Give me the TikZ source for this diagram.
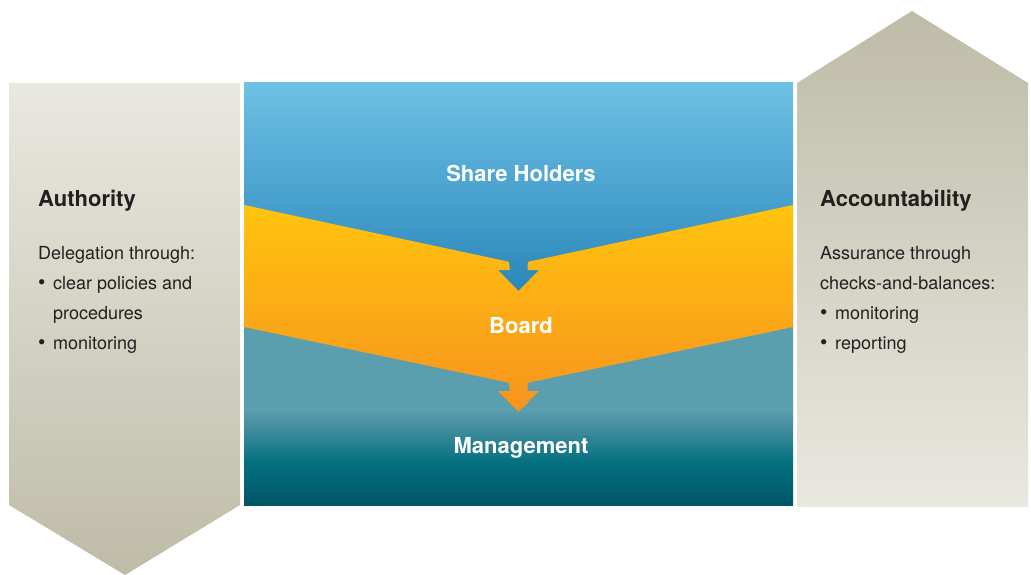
\documentclass[tikz,border=0pt]{standalone}
\usepackage{fontspec}
\setmainfont{TeX Gyre Heros}
\definecolor{txtdark}{HTML}{231F20}
\definecolor{beigeL}{HTML}{E9E8E1}
\definecolor{beigeD}{HTML}{BEBCA7}
\definecolor{blueT}{HTML}{6EC1E4}
\definecolor{blueB}{HTML}{2A86BA}
\definecolor{tealA}{HTML}{5B9EAD}
\definecolor{tealC}{HTML}{3F8B9B}
\definecolor{tealD}{HTML}{03707F}
\definecolor{tealE}{HTML}{005566}
\definecolor{orT}{HTML}{FFC40E}
\definecolor{orB}{HTML}{F7931E}
\pgfdeclareverticalshading{tealshade}{100bp}{color(0bp)=(tealE); color(25bp)=(tealE);
  color(34.9bp)=(tealD); color(42.6bp)=(tealC); color(47.3bp)=(tealA); color(100bp)=(tealA)}
\newcommand{\blt}{\makebox[15pt][l]{\raisebox{-0.3pt}{\fontsize{21}{21}\selectfont\textbullet}}}
\begin{document}
\begin{tikzpicture}[x=1pt,y=-1pt,
  titletext/.style={font=\fontsize{22}{26}\selectfont\bfseries, text=txtdark, inner sep=0pt, anchor=base west},
  bodytext/.style={font=\fontsize{18}{22}\selectfont, text=txtdark, inner sep=0pt, anchor=base west},
  centerlabel/.style={font=\fontsize{22}{26}\selectfont\bfseries, text=white, inner sep=0pt, anchor=base}]
\useasboundingbox (0,0) rectangle (1031,575);
\fill[white] (0,0) rectangle (1031,575);
% left panel (down arrow)
\shade[top color=beigeL, bottom color=beigeD]
  (9,83) -- (240,83) -- (240,505) -- (125,575) -- (9,505) -- cycle;
% right panel (up arrow)
\shade[top color=beigeD, bottom color=beigeL]
  (797,83) -- (912,11) -- (1028,83) -- (1028,507) -- (797,507) -- cycle;
% centre backgrounds
\shade[top color=blueT, bottom color=blueB] (244,83) rectangle (793,292);
\shade[shading=tealshade] (244,292) rectangle (793,505);
% orange chevron band with arrows
\shade[top color=orT, bottom color=orB]
  (244,205) -- (503,260.5) .. controls (509.5,261.5) .. (509.5,267) -- (509.5,270)
  -- (498,270) -- (518.5,291) -- (539,270) -- (527.5,270) -- (527.5,267)
  .. controls (527.5,261.5) .. (534,260.5) -- (793,205) -- (793,327)
  -- (534,381.5) .. controls (527.5,382.5) .. (527.5,388) -- (527.5,391)
  -- (539,391) -- (518.5,412) -- (498,391) -- (509.5,391) -- (509.5,388)
  .. controls (509.5,382.5) .. (503,381.5) -- (244,327) -- cycle;
% centre labels
\node[centerlabel] (share) at (521,182) {Share Holders};
\node[centerlabel] (board) at (521,333) {Board};
\node[centerlabel] (mgmt) at (521,453) {Management};
% left texts
\node[titletext] (auth) at (38,206) {Authority};
\node[bodytext] (l1) at (38,259) {Delegation through:};
\node[bodytext] (l2) at (38,289) {\blt clear policies and};
\node[bodytext] (l3) at (53,319) {procedures};
\node[bodytext] (l4) at (38,349) {\blt monitoring};
% right texts
\node[titletext] (acc) at (820,206) {Accountability};
\node[bodytext] (r1) at (820,259) {Assurance through};
\node[bodytext] (r2) at (820,289) {checks-and-balances:};
\node[bodytext] (r3) at (820,319) {\blt monitoring};
\node[bodytext] (r4) at (820,349) {\blt reporting};
\end{tikzpicture}
\end{document}
